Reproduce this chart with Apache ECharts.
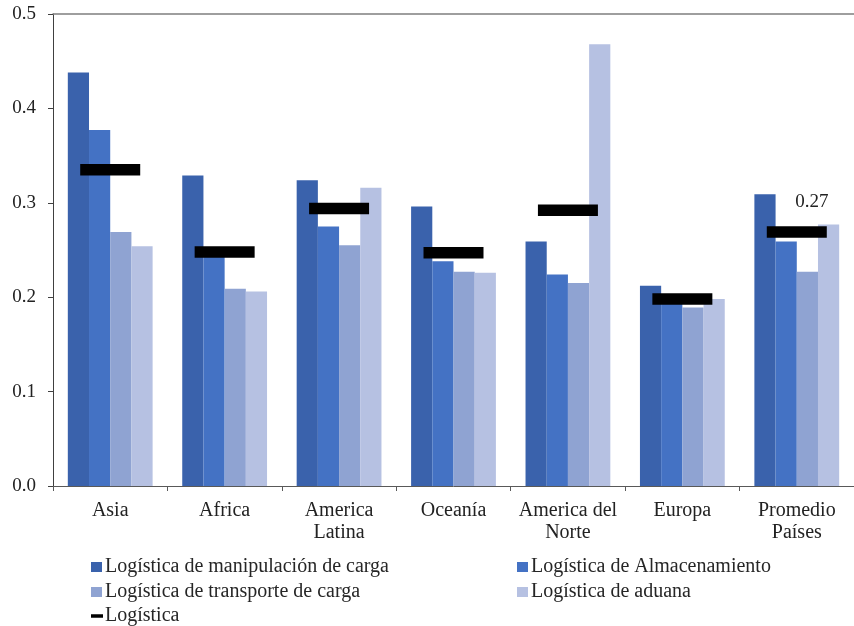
<!DOCTYPE html>
<html>
<head>
<meta charset="utf-8">
<script src="https://cdn.jsdelivr.net/npm/echarts@6/dist/echarts.min.js"></script>
<style>
html,body{margin:0;padding:0;background:#fff;}
#chart{width:854px;height:626px;}
</style>
</head>
<body>
<div id="chart"></div>
<script>
var categories = ['Asia', 'Africa', 'America\nLatina', 'Oceanía', 'America del\nNorte', 'Europa', 'Promedio\nPaíses'];
var seriesNames = ['Logística de manipulación de carga', 'Logística de Almacenamiento', 'Logística de transporte de carga', 'Logística de aduana', 'Logística'];
var manipulacion = [0.438, 0.329, 0.324, 0.296, 0.259, 0.212, 0.309];
var almacenamiento = [0.377, 0.247, 0.275, 0.238, 0.224, 0.194, 0.259];
var transporte = [0.269, 0.209, 0.255, 0.227, 0.215, 0.189, 0.227];
var aduana = [0.254, 0.206, 0.316, 0.226, 0.468, 0.198, 0.277];
var logistica = [0.335, 0.248, 0.294, 0.247, 0.292, 0.198, 0.269];
var yTicks = [0, 0.1, 0.2, 0.3, 0.4, 0.5];

var FONT = "'Liberation Serif', 'Times New Roman', serif";
var colors = ['#3A62AC', '#4472C4', '#8FA3D2', '#B6C1E2', '#000000'];

var chart = echarts.init(document.getElementById('chart'), null, {renderer: 'canvas'});

function barSeries(name, data, color) {
  return {
    name: name, type: 'bar', data: data, barWidth: 21.2, barGap: '0%',
    itemStyle: {color: color}, z: 2
  };
}

var logData = logistica.map(function (v, i) {
  if (i === logistica.length - 1) {
    return {value: v, label: {show: true, position: 'inside', offset: [15, -30],
      formatter: function (p) { return p.value.toFixed(2); },
      fontFamily: FONT, fontSize: 19, color: '#222'}};
  }
  return v;
});

var option = {
  animation: false,
  backgroundColor: '#ffffff',
  textStyle: {fontFamily: FONT},
  grid: {left: 53, top: 14, width: 810, height: 472, containLabel: false},
  legend: [
    {orient: 'vertical', left: 86, top: 552, itemWidth: 11, itemHeight: 10, itemGap: 5,
     icon: 'rect', data: [seriesNames[0], seriesNames[2]],
     textStyle: {fontFamily: FONT, fontSize: 20, color: '#262626', padding: [0, 0, 0, -2]}},
    {orient: 'vertical', left: 512, top: 552, itemWidth: 11, itemHeight: 10, itemGap: 5,
     icon: 'rect', data: [seriesNames[1], seriesNames[3]],
     textStyle: {fontFamily: FONT, fontSize: 20, color: '#262626', padding: [0, 0, 0, -2]}},
    {orient: 'vertical', left: 86, top: 601, itemWidth: 12, itemHeight: 3.5,
     icon: 'rect', data: [seriesNames[4]],
     itemStyle: {opacity: 1, color: '#000'},
     textStyle: {fontFamily: FONT, fontSize: 20, color: '#262626', padding: [0, 0, 0, -3]}}
  ],
  xAxis: [
    {type: 'category', data: categories, position: 'bottom',
     axisLine: {show: true, lineStyle: {color: '#595959', width: 1}},
     axisTick: {show: true, length: 5, alignWithLabel: false, lineStyle: {color: '#595959'}},
     axisLabel: {fontFamily: FONT, fontSize: 20, color: '#222', margin: 14, lineHeight: 22, interval: 0},
     splitLine: {show: false}},
    {type: 'category', data: categories, position: 'top',
     axisLine: {show: true, lineStyle: {color: '#7f7f7f', width: 1.5}},
     axisTick: {show: false}, axisLabel: {show: false}, splitLine: {show: false}}
  ],
  yAxis: {
    type: 'value', min: 0, max: 0.5, interval: 0.1,
    axisLine: {show: true, lineStyle: {color: '#404040', width: 1}},
    axisTick: {show: true, length: 5, lineStyle: {color: '#404040'}},
    axisLabel: {fontFamily: FONT, fontSize: 19, color: '#222', margin: 17,
      formatter: function (v) { return v.toFixed(1); }},
    splitLine: {show: false}
  },
  series: [
    barSeries(seriesNames[0], manipulacion, colors[0]),
    barSeries(seriesNames[1], almacenamiento, colors[1]),
    barSeries(seriesNames[2], transporte, colors[2]),
    barSeries(seriesNames[3], aduana, colors[3]),
    {name: seriesNames[4], type: 'scatter', data: logData, symbol: 'rect',
     symbolSize: [60, 11.5], itemStyle: {color: colors[4], opacity: 1}, z: 5}
  ]
};
chart.setOption(option);
</script>
</body>
</html>
